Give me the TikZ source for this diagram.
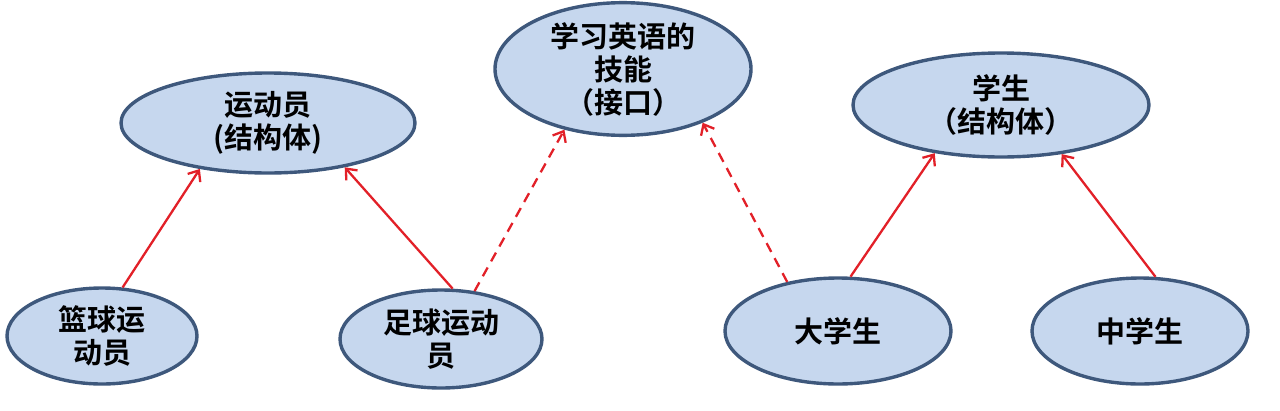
\documentclass[tikz,border=0pt]{standalone}
\usepackage{fontspec}
\newfontfamily\cjk{Noto Sans CJK SC Bold}
\usetikzlibrary{shapes.geometric,arrows.meta}
\definecolor{fillblue}{RGB}{198,215,238}
\definecolor{edgeblue}{RGB}{62,88,124}
\definecolor{arrred}{RGB}{226,32,40}
\tikzset{
  ent/.style={ellipse, draw=edgeblue, fill=fillblue, line width=3.4pt, inner sep=0pt,
    align=center, font=\cjk\fontsize{29}{33}\selectfont},
  inh/.style={draw=arrred, line width=2.3pt, -{Straight Barb[length=9pt,width=15pt,line width=2.3pt]}},
  impl/.style={inh, dash pattern=on 10pt off 7pt},
}
\begin{document}
\begin{tikzpicture}[x=1pt,y=-1pt]
\useasboundingbox (0,0) rectangle (1280,410);
\node[ent, minimum width=294pt, minimum height=100pt] (ath) at (268,123) {运动员\\(结构体)};
\node[ent, minimum width=256pt, minimum height=128pt] (eng) at (623,69) {学习英语的\\技能\\（接口）};
\node[ent, minimum width=296pt, minimum height=104pt] (stu) at (1001,105) {学生\\（结构体）};
\node[ent, minimum width=190pt, minimum height=96pt] (bb) at (102,336) {篮球运\\动员};
\node[ent, minimum width=202pt, minimum height=98pt] (fb) at (441,339) {足球运动\\员};
\node[ent, minimum width=226pt, minimum height=106pt] (col) at (838,331) {大学生};
\node[ent, minimum width=216pt, minimum height=106pt] (mid) at (1140,331) {中学生};
\draw[inh] (bb.67) -- (ath.214);
\draw[inh] (fb.77) -- (ath.330);
\draw[impl] (fb.55) -- (eng.226);
\draw[impl] (col.136) -- (eng.326);
\draw[inh] (col.77) -- (stu.216);
\draw[inh] (mid.74) -- (stu.321);
\end{tikzpicture}
\end{document}
